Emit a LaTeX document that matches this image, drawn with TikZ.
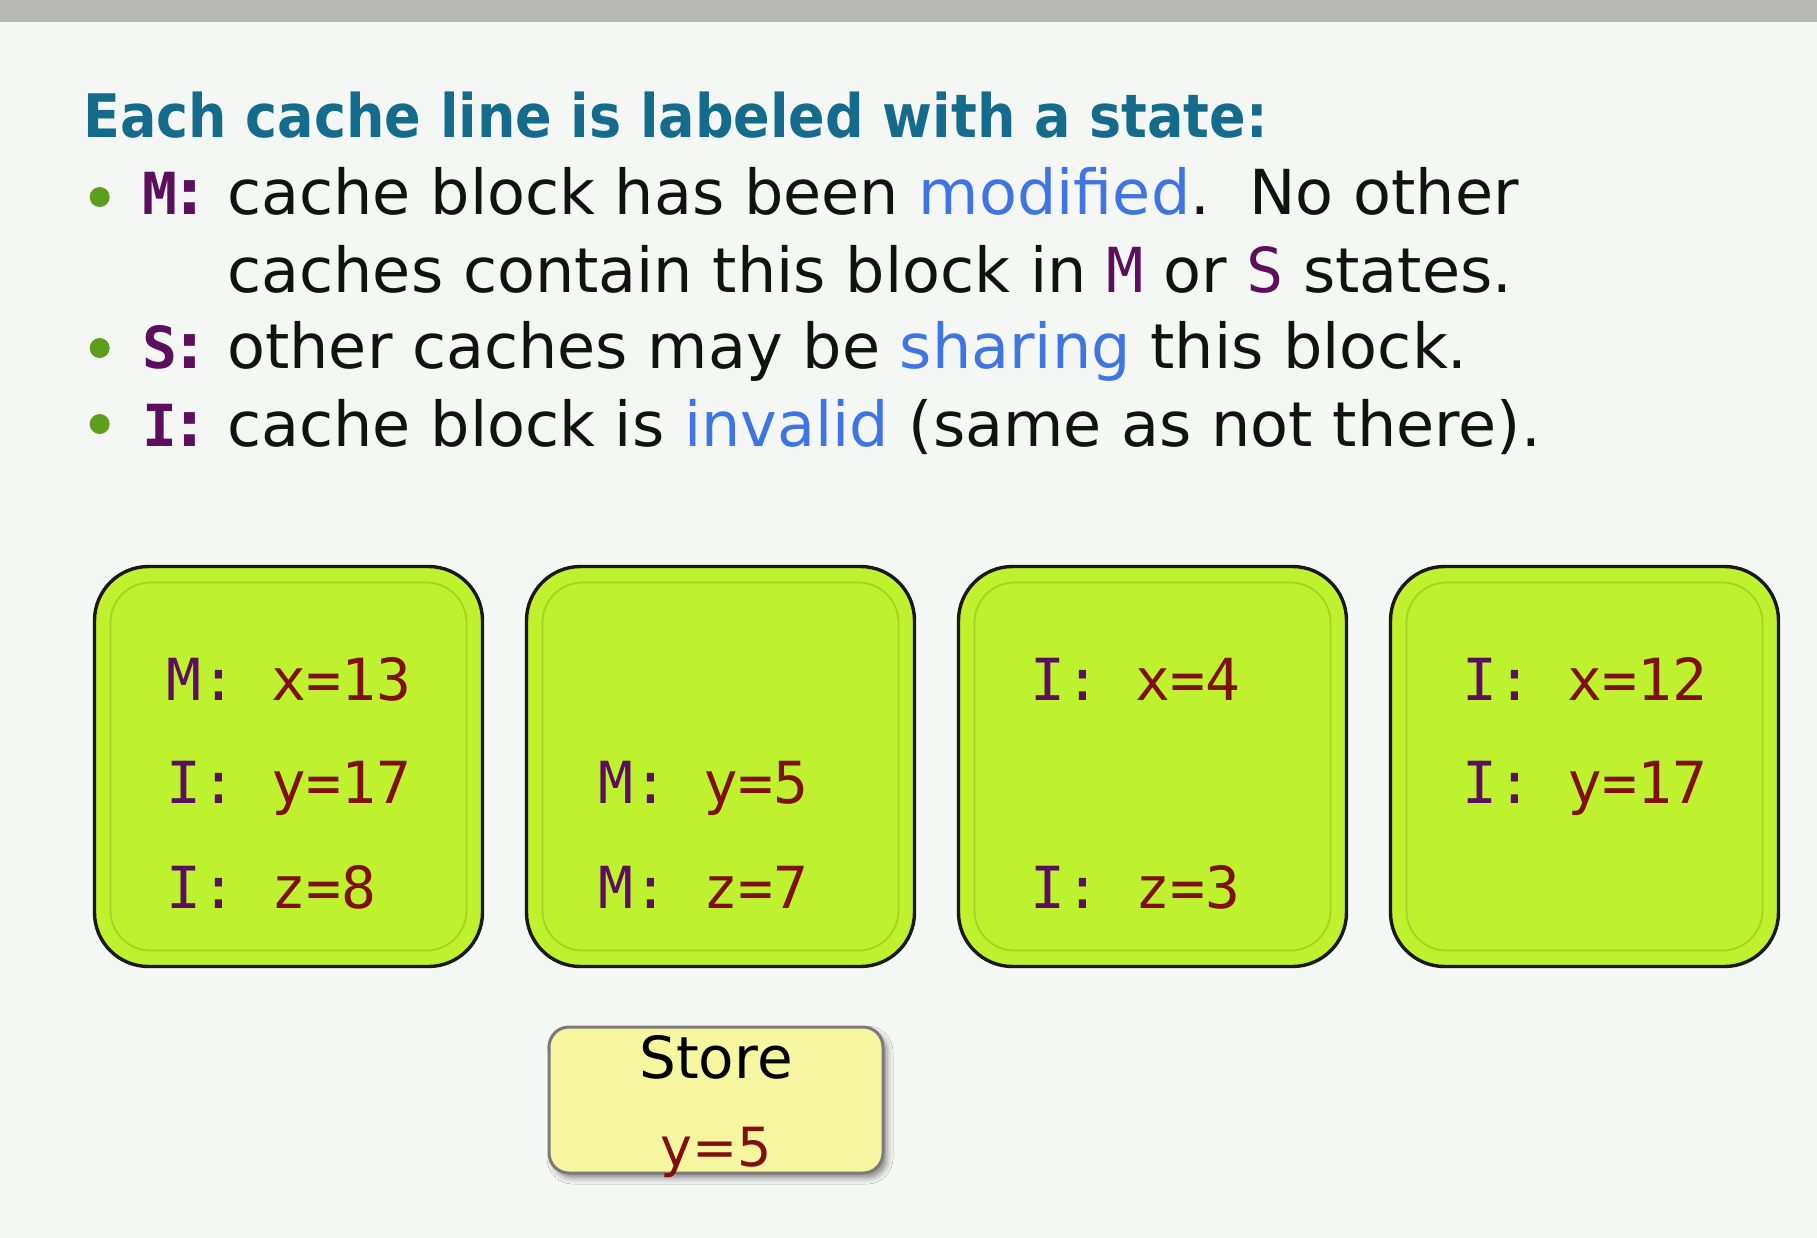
\documentclass[tikz,border=0pt]{standalone}
\usepackage{fontspec}
\setmainfont{DejaVu Sans}
\newfontfamily\titlefont{DejaVu Sans Condensed Bold}
\newfontfamily\monofont{DejaVu Sans Mono}
\newfontfamily\monoboldfont{DejaVu Sans Mono Bold}
\usetikzlibrary{shadows.blur}

\definecolor{pagebg}{HTML}{F5F7F5}
\definecolor{bandgray}{HTML}{B8B9B6}
\definecolor{titleteal}{HTML}{146B8C}
\definecolor{hilite}{HTML}{3F74E3}
\definecolor{statecol}{HTML}{5C0F5C}
\definecolor{valcol}{HTML}{801010}
\definecolor{bulletgreen}{HTML}{5E9E1E}
\definecolor{boxgreen}{HTML}{BEF12E}
\definecolor{bevelgreen}{HTML}{A3D422}
\definecolor{storefill}{HTML}{F7F6A0}
\definecolor{storeline}{HTML}{7A7A7A}

% state letter and value inside a cache box
\newcommand{\sv}[2]{\textcolor{statecol}{#1:}\ \textcolor{valcol}{#2}}
% bold state letter in the legend
\newcommand{\stlabel}[1]{\textcolor{statecol}{{\monoboldfont\fontsize{29pt}{34pt}\selectfont #1}\textbf{:}}}
\newcommand{\stname}[1]{\textcolor{statecol}{{\monofont #1}}}

\begin{document}
\begin{tikzpicture}[x=0.5pt,y=-0.5pt,
  titletext/.style={anchor=base west, inner sep=0pt, text=titleteal,
    font=\titlefont\fontsize{30pt}{36pt}\selectfont},
  bodytext/.style={anchor=base west, inner sep=0pt, text=black!93,
    font=\fontsize{31pt}{36pt}\selectfont},
  legendlabel/.style={anchor=base west, inner sep=0pt,
    font=\fontsize{31pt}{36pt}\selectfont},
  bulletdot/.style={circle, fill=bulletgreen, inner sep=0pt, minimum size=10pt},
  cachebox/.style={draw=black!90, line width=1.7pt, fill=boxgreen,
    rounded corners=27pt, minimum width=194pt, minimum height=200pt,
    inner sep=0pt, outer sep=0pt, anchor=north west},
  bevel/.style={draw=bevelgreen, line width=0.9pt, rounded corners=20pt},
  celltext/.style={anchor=base west, inner sep=0pt,
    font=\monofont\fontsize{29pt}{32pt}\selectfont},
  storebox/.style={draw=storeline, line width=1.5pt, fill=storefill,
    rounded corners=10pt, minimum width=167pt, minimum height=73pt,
    inner sep=0pt, outer sep=0pt,
    blur shadow={shadow xshift=2pt, shadow yshift=-2.5pt, shadow blur radius=3pt, shadow opacity=45}},
  storetext/.style={anchor=base, inner sep=0pt, font=\fontsize{29pt}{34pt}\selectfont}
]
\useasboundingbox (0,0) rectangle (1817,1238);
\fill[pagebg] (0,0) rectangle (1817,1238);
\fill[bandgray] (0,0) rectangle (1817,22);

% heading and legend
\node[titletext] (title) at (83,137) {Each cache line is labeled with a state:};

\node[bulletdot] (b1) at (99.7,197) {};
\node[bulletdot] (b2) at (99.7,348) {};
\node[bulletdot] (b3) at (99.7,424) {};

\node[legendlabel] (m) at (142,214) {\stlabel{M}};
\node[legendlabel] (s) at (142,368.5) {\stlabel{S}};
\node[legendlabel] (i) at (142,446) {\stlabel{I}};

\node[bodytext] (l1) at (227,214) {cache block has been \textcolor{hilite}{modified}.\ \ No other};
\node[bodytext] (l2) at (227,292) {caches contain this block in \stname{M} or \stname{S} states.};
\node[bodytext] (l3) at (227,368.5) {other caches may be \textcolor{hilite}{sharing} this block.};
\node[bodytext] (l4) at (227,446) {cache block is \textcolor{hilite}{invalid} (same as not there).};

% the four caches
\foreach \n/\x in {1/93, 2/525, 3/957, 4/1389} {
  \node[cachebox] (c\n) at (\x+1.5,566.5) {};
  \draw[bevel] ([shift={(16,16)}]c\n.north west) rectangle ([shift={(-16,-16)}]c\n.south east);
}

\node[celltext] (c1a) at ([shift={(72,134)}]c1.north west) {\sv{M}{x=13}};
\node[celltext] (c1b) at ([shift={(72,237)}]c1.north west) {\sv{I}{y=17}};
\node[celltext] (c1c) at ([shift={(72,342)}]c1.north west) {\sv{I}{z=8}};

\node[celltext] (c2b) at ([shift={(72,237)}]c2.north west) {\sv{M}{y=5}};
\node[celltext] (c2c) at ([shift={(72,342)}]c2.north west) {\sv{M}{z=7}};

\node[celltext] (c3a) at ([shift={(72,134)}]c3.north west) {\sv{I}{x=4}};
\node[celltext] (c3c) at ([shift={(72,342)}]c3.north west) {\sv{I}{z=3}};

\node[celltext] (c4a) at ([shift={(72,134)}]c4.north west) {\sv{I}{x=12}};
\node[celltext] (c4b) at ([shift={(72,237)}]c4.north west) {\sv{I}{y=17}};

% the pending store
\node[storebox] (store) at (716,1100) {};
\node[storetext] (storelbl) at (716,1078) {Store};
\node[storetext, text=valcol, font=\fontsize{27pt}{32pt}\selectfont] (storeval) at (716,1166) {y=5};
\end{tikzpicture}
\end{document}
